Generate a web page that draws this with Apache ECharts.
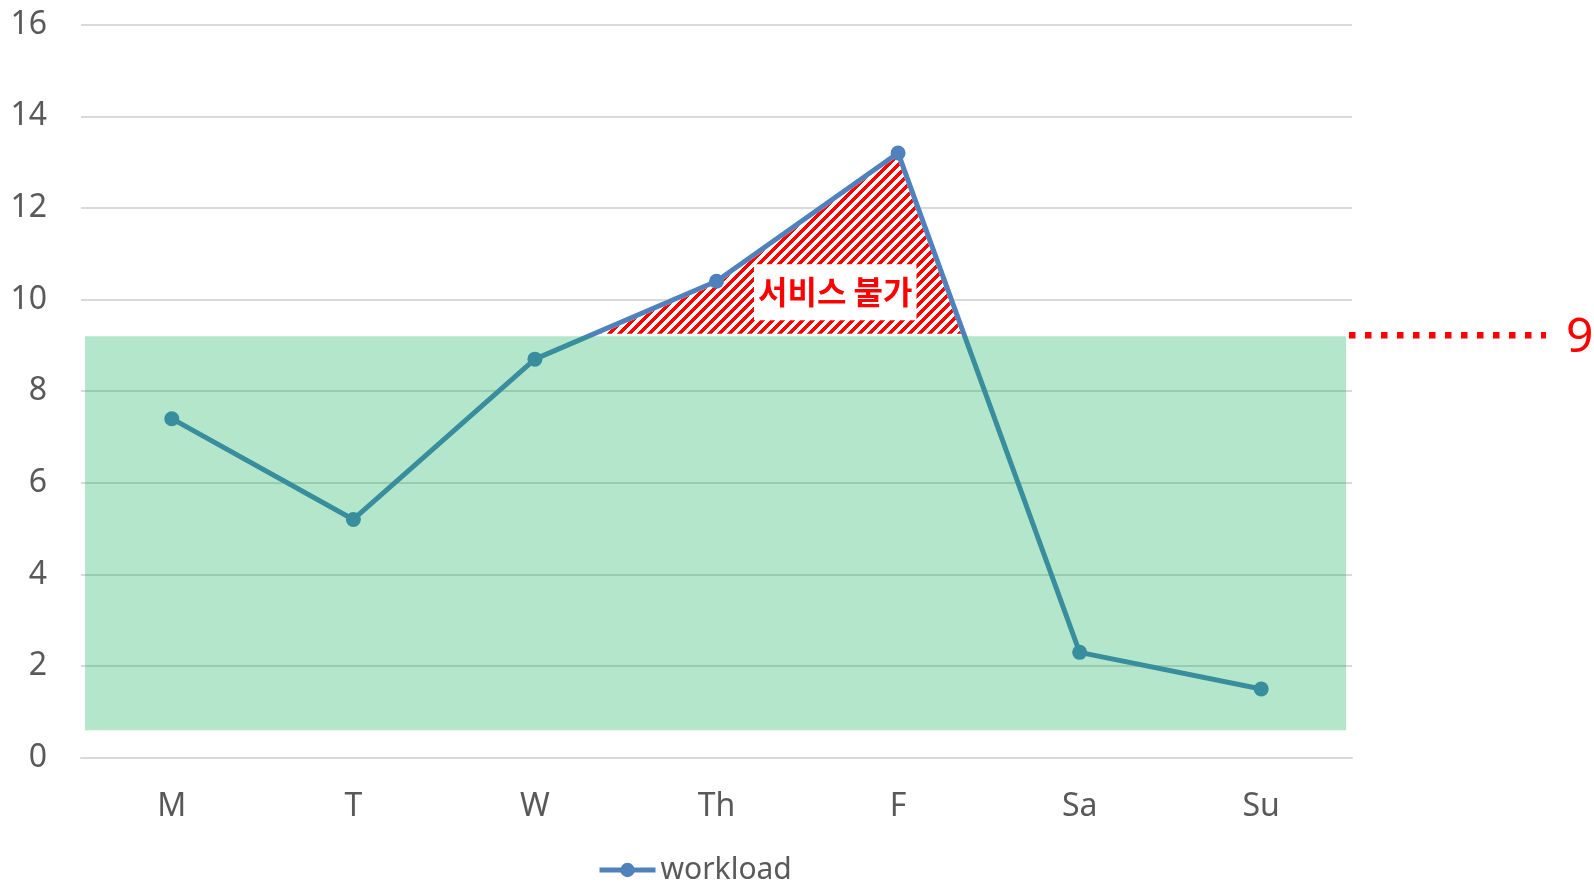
<!DOCTYPE html>
<html>
<head>
<meta charset="utf-8">
<script src="https://cdn.jsdelivr.net/npm/echarts@6/dist/echarts.min.js"></script>
<style>
html, body { margin: 0; padding: 0; background: #fff; }
#main { width: 1594px; height: 885px; }
</style>
</head>
<body>
<div id="main"></div>
<script>
// 요일별 workload
var days = ['M', 'T', 'W', 'Th', 'F', 'Sa', 'Su'];
var workload = [7.4, 5.2, 8.7, 10.4, 13.2, 2.3, 1.5];
// 처리 가능 구간 (아래, 위)
var capacity = [0.6, 9.2];
var limitText = '9';
var overText = '서비스 불가';
var overTextAt = [3.654, 10.16];

var lineColor = '#4f81bd';
var bandColor = 'rgba(8,172,86,0.3)';
var labelColor = '#595959';
var font = '"Noto Sans", "Open Sans", sans-serif';

// 빗금 패턴
function makeHatch() {
    var s = 10;
    var c = document.createElement('canvas');
    c.width = s; c.height = s;
    var ctx = c.getContext('2d');
    var img = ctx.createImageData(s, s);
    for (var y = 0; y < s; y++) {
        for (var x = 0; x < s; x++) {
            var k = (y * s + x) * 4;
            var red = (x + y) % s < 5;
            img.data[k] = 255;
            img.data[k + 1] = red ? 0 : 255;
            img.data[k + 2] = red ? 0 : 255;
            img.data[k + 3] = 255;
        }
    }
    ctx.putImageData(img, 0, 0);
    return c;
}
var hatch = makeHatch();

function lerp(a, b, t) {
    return [a[0] + (b[0] - a[0]) * t, a[1] + (b[1] - a[1]) * t];
}

function renderBand(params, api) {
    var cs = params.coordSys;
    var top = api.coord([0, capacity[1]])[1];
    var bot = api.coord([0, capacity[0]])[1];
    var x0 = cs.x + 4, x1 = cs.x + cs.width - 6;
    return {
        type: 'group',
        children: [{
            type: 'rect',
            shape: { x: x0, y: top, width: x1 - x0, height: bot - top },
            style: { fill: bandColor }
        }, {
            type: 'line',
            shape: { x1: cs.x + cs.width - 3, y1: top - 1, x2: cs.x + cs.width + 194, y2: top - 1 },
            style: { stroke: '#ff0000', lineWidth: 6.5, lineDash: [6.5, 9.5] }
        }, {
            type: 'text',
            x: cs.x + cs.width + 214,
            y: top + 2,
            style: {
                text: limitText, fill: '#ff0000',
                font: '48px ' + font,
                align: 'left', verticalAlign: 'middle'
            }
        }]
    };
}

function renderOver(params, api) {
    var thr = capacity[1];
    var pts = [];
    for (var i = 0; i < workload.length; i++) {
        var v = workload[i];
        var p = api.coord([i, v]);
        if (i > 0) {
            var pv = workload[i - 1];
            if ((pv - thr) * (v - thr) < 0) {
                var t = (thr - pv) / (v - pv);
                pts.push(lerp(api.coord([i - 1, pv]), p, t));
            }
        }
        if (v > thr) pts.push(p);
    }
    var a = api.coord([Math.floor(overTextAt[0]), overTextAt[1]]);
    var b = api.coord([Math.ceil(overTextAt[0]), overTextAt[1]]);
    var lp = lerp(a, b, overTextAt[0] - Math.floor(overTextAt[0]));
    return {
        type: 'group',
        children: [{
            type: 'polygon',
            shape: { points: pts },
            style: { fill: { image: hatch, repeat: 'repeat' }, stroke: '#ffffff', lineWidth: 5 }
        }, {
            type: 'text',
            x: lp[0],
            y: lp[1],
            style: {
                text: overText, fill: '#ff0000',
                font: 'bold 32px "Noto Sans CJK KR", sans-serif',
                align: 'center', verticalAlign: 'middle',
                backgroundColor: '#ffffff',
                padding: [12, 4]
            }
        }]
    };
}

var chart = echarts.init(document.getElementById('main'));
var option = {
    backgroundColor: '#ffffff',
    animation: false,
    grid: {
        left: 81,
        right: 242,
        top: 24.7,
        bottom: 127.3,
        containLabel: false,
        outerBoundsMode: 'none'
    },
    legend: {
        data: ['workload'],
        left: 597,
        top: 855,
        padding: 0,
        itemWidth: 56,
        itemHeight: 18,
        lineStyle: { width: 5 },
        textStyle: { fontSize: 30, color: labelColor, fontFamily: font }
    },
    xAxis: {
        type: 'category',
        data: days,
        boundaryGap: true,
        axisLine: { show: true, lineStyle: { color: '#d9d9d9', width: 2 } },
        axisTick: { show: false },
        axisLabel: { fontSize: 32, color: labelColor, fontFamily: font, margin: 33 },
        splitLine: { show: false }
    },
    yAxis: {
        type: 'value',
        min: 0,
        max: 16,
        interval: 2,
        axisLine: { show: false },
        axisTick: { show: false },
        axisLabel: { fontSize: 32, color: labelColor, fontFamily: font, margin: 34 },
        splitLine: { lineStyle: { color: '#d9d9d9', width: 2 } }
    },
    series: [{
        type: 'custom',
        renderItem: renderOver,
        data: [0],
        silent: true,
        z: 1
    }, {
        name: 'workload',
        type: 'line',
        data: workload,
        symbol: 'circle',
        symbolSize: 15,
        showSymbol: true,
        itemStyle: { color: lineColor },
        lineStyle: { color: lineColor, width: 5 },
        z: 2
    }, {
        type: 'custom',
        renderItem: renderBand,
        data: [0],
        silent: true,
        z: 3
    }]
};
chart.setOption(option);
</script>
</body>
</html>
